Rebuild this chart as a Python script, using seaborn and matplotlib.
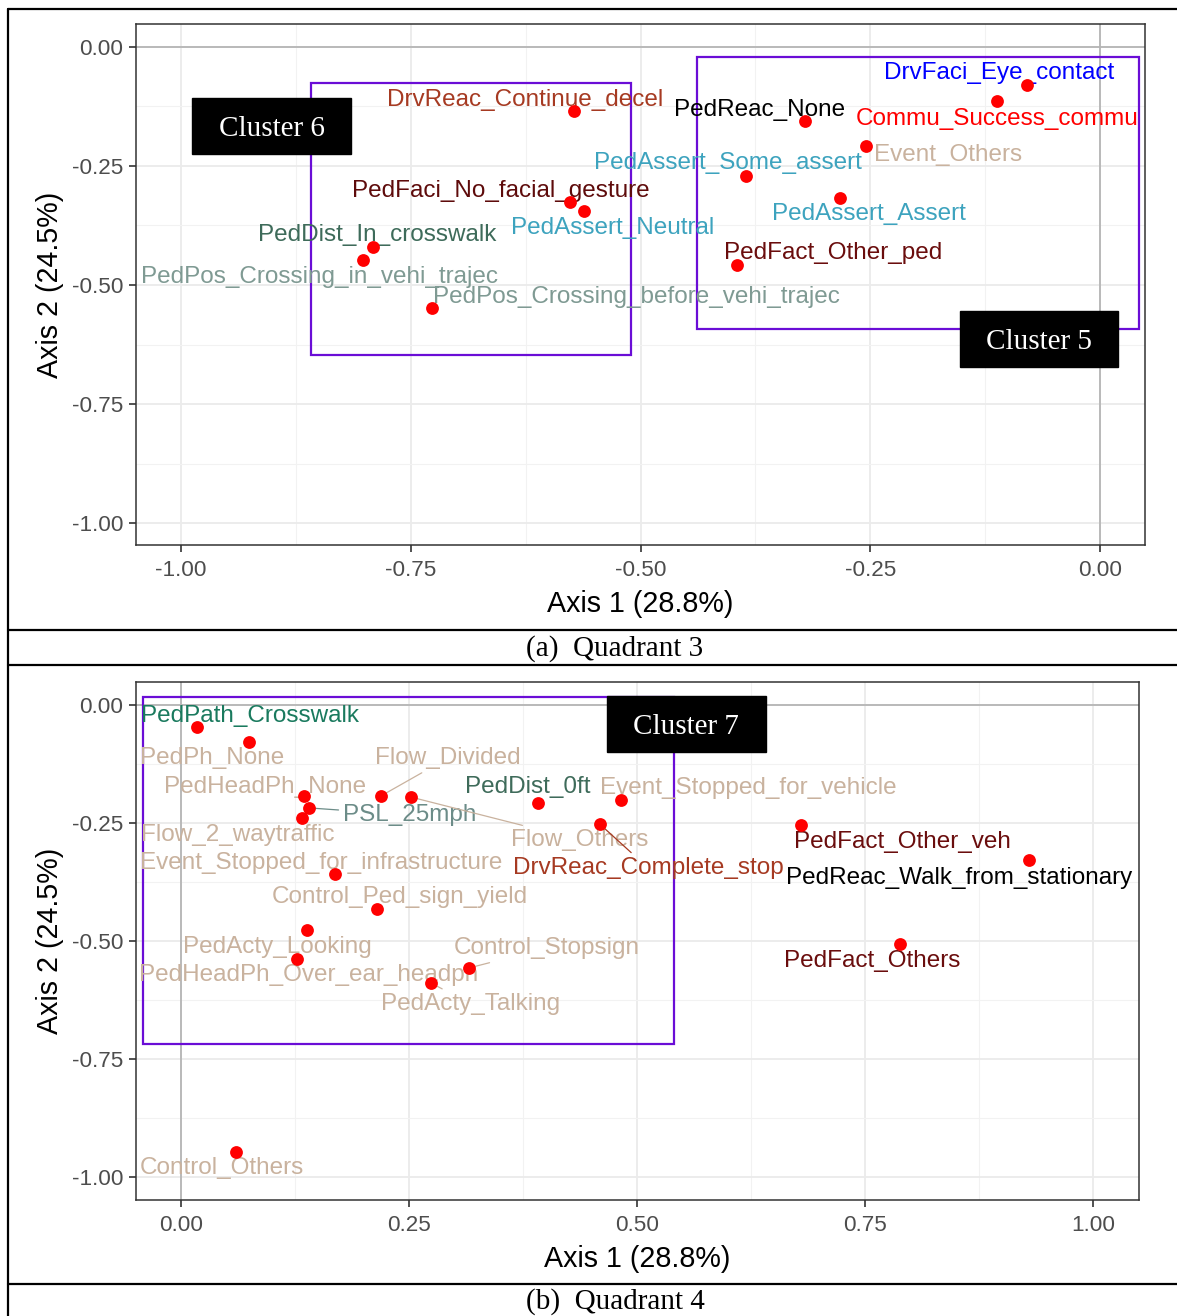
import numpy as np
import pandas as pd
import matplotlib
matplotlib.use("Agg")
import matplotlib.pyplot as plt
import seaborn as sns
from matplotlib.patches import Rectangle
from matplotlib.lines import Line2D
from matplotlib.ticker import MultipleLocator

# ---- data: quadrant 3 ----
q3_names = [
    "DrvReac_Continue_decel", "PedFaci_No_facial_gesture", "PedAssert_Neutral",
    "PedDist_In_crosswalk", "PedPos_Crossing_in_vehi_trajec",
    "PedPos_Crossing_before_vehi_trajec", "PedReac_None", "DrvFaci_Eye_contact",
    "Commu_Success_commu", "Event_Others", "PedAssert_Some_assert",
    "PedAssert_Assert", "PedFact_Other_ped",
]
q3_ax1 = [-0.572, -0.577, -0.561, -0.791, -0.802, -0.727, -0.321, -0.080,
          -0.112, -0.255, -0.385, -0.283, -0.395]
q3_ax2 = [-0.134, -0.326, -0.345, -0.420, -0.447, -0.548, -0.155, -0.080,
          -0.113, -0.208, -0.271, -0.317, -0.458]

# ---- data: quadrant 4 ----
q4_names = [
    "PedPath_Crosswalk", "PedPh_None", "PedHeadPh_None", "PSL_25mph",
    "Flow_2_waytraffic", "Flow_Divided", "Flow_Others",
    "Event_Stopped_for_infrastructure", "Control_Ped_sign_yield",
    "PedActy_Looking", "PedHeadPh_Over_ear_headph", "Control_Stopsign",
    "PedActy_Talking", "PedDist_0ft", "Event_Stopped_for_vehicle",
    "DrvReac_Complete_stop", "PedFact_Other_veh", "PedReac_Walk_from_stationary",
    "PedFact_Others", "Control_Others",
]
q4_ax1 = [0.018, 0.075, 0.135, 0.140, 0.133, 0.219, 0.252, 0.169, 0.215,
          0.138, 0.127, 0.316, 0.274, 0.391, 0.482, 0.459, 0.680, 0.930,
          0.788, 0.060]
q4_ax2 = [-0.047, -0.078, -0.193, -0.218, -0.239, -0.193, -0.195, -0.358,
          -0.432, -0.477, -0.538, -0.557, -0.589, -0.208, -0.201, -0.252,
          -0.254, -0.328, -0.506, -0.947]

# ---- label layout (repelled label positions, data units) ----
q3_lab_x = [-0.626, -0.652, -0.530, -0.786, -0.849, -0.504, -0.371, -0.110,
            -0.112, -0.165, -0.405, -0.252, -0.290]
q3_lab_y = [-0.111, -0.302, -0.380, -0.395, -0.483, -0.525, -0.132, -0.055,
            -0.151, -0.227, -0.244, -0.351, -0.433]
q4_lab_x = [0.0757, 0.034, 0.092, 0.251, 0.0625, 0.293, 0.4375, 0.1535,
            0.240, 0.106, 0.140, 0.401, 0.318, 0.380, 0.622, 0.512, 0.791,
            0.853, 0.758, 0.045]
q4_lab_y = [-0.023, -0.112, -0.174, -0.233, -0.275, -0.112, -0.286, -0.335,
            -0.407, -0.513, -0.572, -0.515, -0.633, -0.174, -0.176, -0.345,
            -0.290, -0.366, -0.542, -0.981]
q4_segments = {"PSL_25mph", "Flow_Divided", "Flow_Others", "Control_Stopsign",
               "PedActy_Talking", "DrvReac_Complete_stop"}

prefix_colors = {
    "DrvReac": "#A63A22", "PedFaci": "#5E0B0B", "PedAssert": "#3DA3BE",
    "PedDist": "#3E6B5A", "PedPos": "#7F9A93", "PedReac": "#000000",
    "DrvFaci": "#0000FF", "Commu": "#FF0000", "Event": "#C9B29E",
    "PedFact": "#6A0D0D", "PedPath": "#1A7A5E", "PedPh": "#C9B29E",
    "PedHeadPh": "#C9B29E", "PSL": "#6C8C88", "Flow": "#C9B29E",
    "Control": "#C9B29E", "PedActy": "#C9B29E",
}

sns.set_theme(style="white")
plt.rcParams["font.family"] = ["Liberation Sans", "DejaVu Sans"]

W, H = 1177, 1316
fig = plt.figure(figsize=(W / 100, H / 100), dpi=100)
fig.patch.set_facecolor("white")

purple = "#6A0DD6"
LABEL_SIZE = 17.5


def px_axes(l, t, r, b):
    return fig.add_axes([l / W, 1 - b / H, (r - l) / W, (b - t) / H])


def draw_panel(ax, names, x, y, lab_x, lab_y, segs, xlim, ylim, xticks,
               clusters, tags):
    df = pd.DataFrame({"ax1": x, "ax2": y, "name": names})
    ax.set_xlim(*xlim)
    ax.set_ylim(*ylim)
    ax.xaxis.set_minor_locator(MultipleLocator(0.125))
    ax.yaxis.set_minor_locator(MultipleLocator(0.125))
    ax.set_xticks(xticks)
    ax.set_yticks([0.0, -0.25, -0.5, -0.75, -1.0])
    ax.grid(which="major", color="#EBEBEB", lw=1.3, zorder=0)
    ax.grid(which="minor", color="#F2F2F2", lw=0.8, zorder=0)
    ax.set_axisbelow(True)
    ax.axhline(0, color="#B5B5B5", lw=1.3, zorder=1)
    ax.axvline(0, color="#B5B5B5", lw=1.3, zorder=1)

    for (x0, y0, x1, y1) in clusters:
        ax.add_patch(Rectangle((x0, y0), x1 - x0, y1 - y0, fill=False,
                               ec=purple, lw=1.6, zorder=2))

    for i, nm in enumerate(names):
        col = prefix_colors[nm.split("_")[0]]
        if nm in segs:
            ax.annotate(nm, xy=(x[i], y[i]), xytext=(lab_x[i], lab_y[i]),
                        ha="center", va="center", fontsize=LABEL_SIZE,
                        color=col, zorder=3,
                        arrowprops=dict(arrowstyle="-", color=col, lw=0.9,
                                        shrinkA=1, shrinkB=0))
        else:
            ax.text(lab_x[i], lab_y[i], nm, ha="center", va="center",
                    fontsize=LABEL_SIZE, color=col, zorder=3)

    sns.scatterplot(data=df, x="ax1", y="ax2", ax=ax, color="#FF0000",
                    s=85, linewidth=0, zorder=4, legend=False)

    for (x0, y0, x1, y1, txt) in tags:
        ax.add_patch(Rectangle((x0, y0), x1 - x0, y1 - y0, fc="black",
                               ec="black", zorder=5))
        ax.text((x0 + x1) / 2, (y0 + y1) / 2 - 0.006, txt, ha="center",
                va="center", color="white", fontsize=21,
                family=["Liberation Serif", "DejaVu Serif"], zorder=6)

    ax.set_xticklabels([f"{v:.2f}" for v in xticks])
    ax.set_yticklabels(["0.00", "-0.25", "-0.50", "-0.75", "-1.00"])
    ax.tick_params(axis="x", which="major", pad=6)
    ax.tick_params(axis="y", which="major", pad=4)
    ax.tick_params(axis="both", which="major", length=5, width=1.2,
                   color="#333333", labelsize=16.2, labelcolor="#4D4D4D",
                   bottom=True, left=True)
    ax.tick_params(which="minor", length=0)
    for sp in ax.spines.values():
        sp.set_color("#333333")
        sp.set_linewidth(1.1)
    ax.set_xlabel("Axis 1 (28.8%)", fontsize=20.6, color="black", labelpad=6)
    ax.set_ylabel("Axis 2 (24.5%)", fontsize=20.6, color="black", labelpad=6)


ax_top = px_axes(136, 24, 1145, 545)
draw_panel(ax_top, q3_names, q3_ax1, q3_ax2, q3_lab_x, q3_lab_y, set(),
           (-1.0489, 0.0489), (-1.0462, 0.0483),
           [-1.0, -0.75, -0.5, -0.25, 0.0],
           [(-0.858, -0.647, -0.510, -0.076), (-0.438, -0.592, 0.042, -0.021)],
           [(-0.988, -0.225, -0.815, -0.107, "Cluster 6"),
            (-0.152, -0.672, 0.0196, -0.555, "Cluster 5")])

ax_bot = px_axes(136, 682, 1139, 1200)
draw_panel(ax_bot, q4_names, q4_ax1, q4_ax2, q4_lab_x, q4_lab_y, q4_segments,
           (-0.0493, 1.0504), (-1.0487, 0.0487),
           [0.0, 0.25, 0.5, 0.75, 1.0],
           [(-0.042, -0.718, 0.541, 0.017)],
           [(0.467, -0.0996, 0.641, 0.019, "Cluster 7")])

# ---- table frame and captions ----
def hline(ypx):
    fig.add_artist(Line2D([8 / W, 1.0], [1 - ypx / H] * 2, color="black",
                          lw=1.6, transform=fig.transFigure))


for ypx in (9, 630, 665, 1284):
    hline(ypx)
fig.add_artist(Line2D([8 / W] * 2, [1 - 9 / H, 0.0], color="black", lw=1.6,
                      transform=fig.transFigure))

serif = ["Liberation Serif", "DejaVu Serif"]
fig.text(615 / W, 1 - 649 / H, "(a)  Quadrant 3", ha="center", va="center",
         fontsize=21, family=serif, color="black")
fig.text(615 / W, 1 - 1302 / H, "(b)  Quadrant 4", ha="center", va="center",
         fontsize=21, family=serif, color="black")

fig.savefig("out.png", dpi=100)
plt.close(fig)
